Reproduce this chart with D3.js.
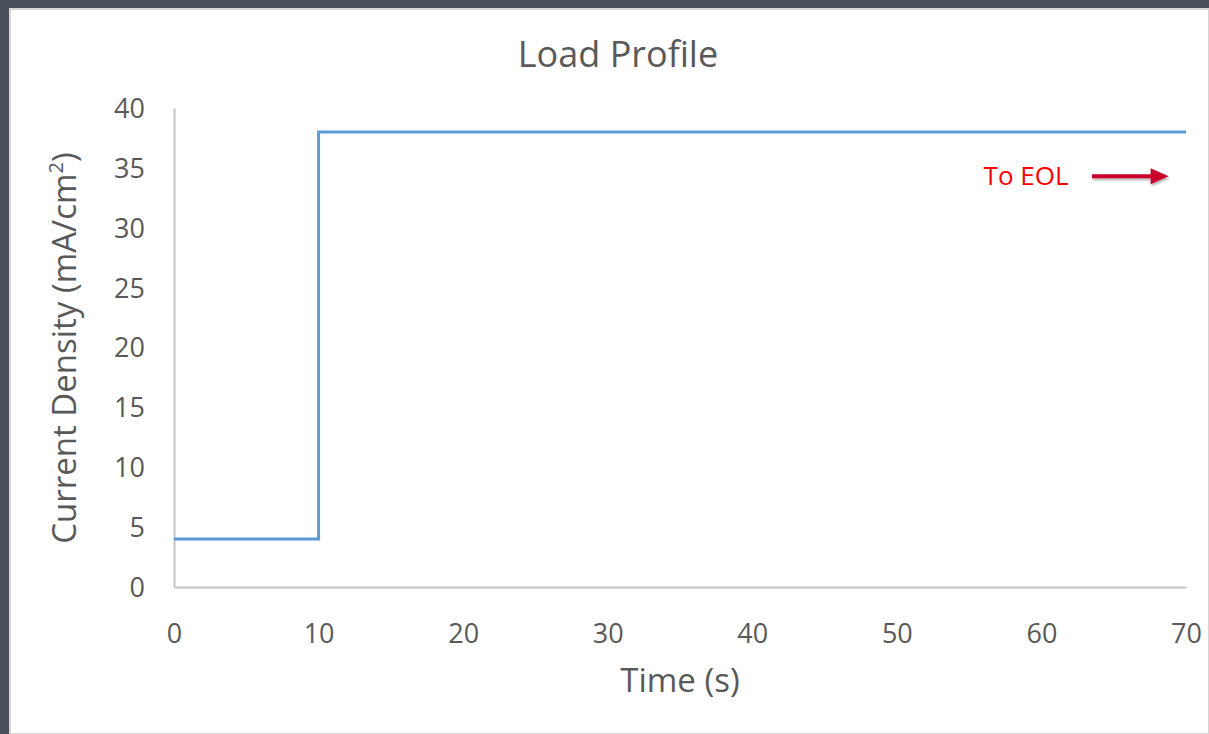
<!DOCTYPE html>
<html>
<head>
<meta charset="utf-8">
<script src="https://cdn.jsdelivr.net/npm/d3@7"></script>
<style>
  html, body { margin: 0; padding: 0; background: #4a505c; }
  svg { display: block; }
  text { font-family: "Open Sans", "Noto Sans", sans-serif; }
</style>
</head>
<body>
<svg id="chart" width="1209" height="734"></svg>
<script>
// Step load profile: current density over time
const timeValues = [0, 10, 10, 70];
const densityValues = [4, 4, 38, 38];
const xTicks = [0, 10, 20, 30, 40, 50, 60, 70];
const yTicks = [0, 5, 10, 15, 20, 25, 30, 35, 40];
const chartTitle = "Load Profile";
const xTitle = "Time (s)";
const annotationText = "To EOL";
const annotationAt = [56, 34.3];
const arrowFrom = [63.5, 34.3];
const arrowTo = [68.8, 34.3];

const svg = d3.select("#chart");
const W = 1209, H = 734;

// white panel
svg.append("rect")
  .attr("x", 10).attr("y", 9)
  .attr("width", W - 10).attr("height", H - 9)
  .attr("fill", "#ffffff")
  .attr("stroke", "#d6d6d6").attr("stroke-width", 2);

const margin = { left: 174, right: 1186, top: 108, bottom: 587 };
const x = d3.scaleLinear().domain([0, 70]).range([margin.left, margin.right]);
const y = d3.scaleLinear().domain([0, 40]).range([margin.bottom, margin.top]);

const textColor = "#595959";
const axisColor = "#c3c3c3";

// x axis
const xAxis = svg.append("g")
  .attr("transform", `translate(0,${margin.bottom})`)
  .call(d3.axisBottom(x).tickValues(xTicks).tickSize(0).tickPadding(0));
xAxis.select(".domain").attr("stroke", axisColor).attr("stroke-width", 2);
xAxis.selectAll("text")
  .attr("fill", textColor).attr("font-size", 27)
  .attr("dy", 0).attr("y", 56);

// y axis
const yAxis = svg.append("g")
  .attr("transform", `translate(${margin.left},0)`)
  .call(d3.axisLeft(y).tickValues(yTicks).tickSize(0).tickPadding(0));
yAxis.select(".domain").attr("stroke", axisColor).attr("stroke-width", 2);
yAxis.selectAll("text")
  .attr("fill", textColor).attr("font-size", 27)
  .attr("x", -29).attr("dy", "0.35em");

// data line
const line = d3.line().x((d, i) => x(timeValues[i])).y(d => y(d));
svg.append("path")
  .datum(densityValues)
  .attr("d", line)
  .attr("fill", "none")
  .attr("stroke", "#5b9bd5")
  .attr("stroke-width", 3)
  .attr("stroke-linejoin", "miter");

// title
svg.append("text")
  .attr("x", 618).attr("y", 67)
  .attr("text-anchor", "middle")
  .attr("font-size", 36)
  .attr("fill", textColor)
  .text(chartTitle);

// x axis title
svg.append("text")
  .attr("x", 680).attr("y", 692)
  .attr("text-anchor", "middle")
  .attr("font-size", 33)
  .attr("fill", textColor)
  .text(xTitle);

// y axis title
const yTitle = svg.append("text")
  .attr("transform", "translate(76,348) rotate(-90)")
  .attr("text-anchor", "middle")
  .attr("font-size", 33)
  .attr("fill", textColor);
yTitle.append("tspan").text("Current Density (mA/cm");
yTitle.append("tspan").attr("font-size", 20).attr("dy", -13).text("2");
yTitle.append("tspan").attr("dy", 13).text(")");

// annotation
svg.append("text")
  .attr("x", x(annotationAt[0])).attr("y", y(annotationAt[1]))
  .attr("dy", "0.35em")
  .attr("font-size", 26)
  .attr("fill", "#ff0000")
  .text(annotationText);

// arrow with soft drop shadow
svg.append("defs").append("filter")
  .attr("id", "shadow")
  .attr("filterUnits", "userSpaceOnUse")
  .attr("x", 0).attr("y", 0).attr("width", W).attr("height", H)
  .append("feDropShadow")
  .attr("dx", 1).attr("dy", 2).attr("stdDeviation", 1.2)
  .attr("flood-color", "#000").attr("flood-opacity", 0.3);

const ax0 = x(arrowFrom[0]), ax1 = x(arrowTo[0]), ay = y(arrowFrom[1]);
const headLen = 18, headHalf = 8, shaft = 2;
svg.append("path")
  .attr("d", `M${ax0},${ay - shaft} L${ax1 - headLen},${ay - shaft} L${ax1 - headLen},${ay - headHalf}
              L${ax1},${ay} L${ax1 - headLen},${ay + headHalf} L${ax1 - headLen},${ay + shaft} L${ax0},${ay + shaft} Z`)
  .attr("fill", "#c8002c")
  .attr("filter", "url(#shadow)");
</script>
</body>
</html>
